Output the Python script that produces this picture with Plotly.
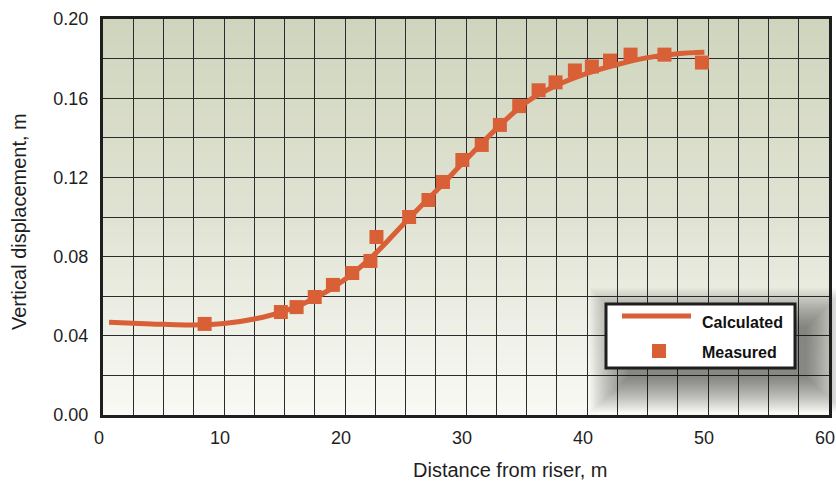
import plotly.graph_objects as go

# Measured vertical displacement along the pipe
measured_x = [8.4, 14.7, 16.0, 17.5, 19.0, 20.6, 22.1, 22.6, 25.3, 26.9, 28.1, 29.7,
              31.3, 32.8, 34.4, 36.0, 37.4, 39.0, 40.4, 41.9, 43.6, 46.4, 49.5]
measured_y = [0.046, 0.052, 0.0545, 0.0596, 0.0657, 0.0717, 0.0778, 0.0899, 0.100, 0.1086,
              0.1177, 0.1288, 0.1364, 0.1465, 0.156, 0.164, 0.168, 0.174, 0.176, 0.179,
              0.182, 0.182, 0.178]

# Calculated displacement profile
calc_x = [0.5, 2.5, 5, 7.5, 10, 12.5, 15, 17.5, 20, 22.5, 25, 27.5, 30, 32.5, 35,
          37.5, 40, 42.5, 45, 47.5, 49.7]
calc_y = [0.0468, 0.0464, 0.0458, 0.0455, 0.0462, 0.0485, 0.0525, 0.059, 0.0685, 0.0815,
          0.0975, 0.113, 0.129, 0.1445, 0.158, 0.1665, 0.1725, 0.177, 0.1805, 0.1825, 0.1832]

x_ticks = [0, 10, 20, 30, 40, 50, 60]
y_ticks = [0.00, 0.04, 0.08, 0.12, 0.16, 0.20]
y_tick_text = ["0.00", "0.04", "0.08", "0.12", "0.16", "0.20"]

ORANGE = "#d95f37"
GRID = "#2b2b2b"
TEXT = "#1e1e1e"
FONT = "Liberation Sans, Arial, sans-serif"

W, H = 836, 484
ML, MR, MT, MB = 103, 7, 19, 69
PW, PH = W - ML - MR, H - MT - MB


def px(x):
    """Horizontal pixel position -> paper fraction."""
    return (x - ML) / PW


def py(y):
    """Vertical pixel position (from top) -> paper fraction."""
    return (H - MB - y) / PH


fig = go.Figure()

fig.add_trace(go.Scatter(
    x=calc_x, y=calc_y, mode="lines", name="Calculated",
    line=dict(color=ORANGE, width=5, shape="spline", smoothing=1.0),
))
fig.add_trace(go.Scatter(
    x=measured_x, y=measured_y, mode="markers", name="Measured",
    marker=dict(symbol="square", size=14, color=ORANGE, line=dict(width=0)),
))

# Vertical gradient background behind the grid
top_rgb = (0xcf, 0xd5, 0xbd)
mid_rgb = (0xe0, 0xe3, 0xd3)
bot_rgb = (0xf9, 0xf9, 0xf5)
shapes = []
n_strips = 80
for i in range(n_strips):
    t = i / (n_strips - 1)  # 0 at bottom, 1 at top
    if t < 0.5:
        u = t / 0.5
        c = [bot_rgb[k] + (mid_rgb[k] - bot_rgb[k]) * u for k in range(3)]
    else:
        u = (t - 0.5) / 0.5
        c = [mid_rgb[k] + (top_rgb[k] - mid_rgb[k]) * u for k in range(3)]
    shapes.append(dict(
        type="rect", xref="x domain", yref="y domain",
        x0=0, x1=1, y0=i / n_strips, y1=(i + 1) / n_strips + 0.002,
        fillcolor="rgb(%d,%d,%d)" % tuple(int(round(v)) for v in c),
        line=dict(width=0), layer="below",
    ))

# Legend box geometry (pixels)
BX0, BX1, BY0, BY1 = 606, 795, 304, 368

# Soft drop shadow under the legend box
for k in range(18):
    g = k * 2.2
    shapes.append(dict(
        type="rect", xref="paper", yref="paper",
        x0=px(BX0 + 22 - g), x1=px(BX1 + 12 + g),
        y0=py(BY1 + 10 + g * 0.9), y1=py(BY0 + 22 - g),
        fillcolor="rgba(30,30,30,0.036)", line=dict(width=0), layer="above",
    ))

# Legend box, line sample and marker sample
shapes.append(dict(
    type="rect", xref="paper", yref="paper",
    x0=px(BX0), x1=px(BX1), y0=py(BY1), y1=py(BY0),
    fillcolor="white", line=dict(color="#1e1e1e", width=3), layer="above",
))
shapes.append(dict(
    type="line", xref="paper", yref="paper",
    x0=px(622), x1=px(691), y0=py(316), y1=py(316),
    line=dict(color=ORANGE, width=5), layer="above",
))
shapes.append(dict(
    type="rect", xref="paper", yref="paper",
    x0=px(652), x1=px(666), y0=py(358), y1=py(344),
    fillcolor=ORANGE, line=dict(width=0), layer="above",
))

legend_font = dict(family=FONT, size=16, color="#111111", weight="bold")
title_font = dict(family=FONT, size=20, color=TEXT)
annotations = [
    dict(text="Calculated", xref="paper", yref="paper", x=px(700), y=py(322),
         xanchor="left", yanchor="middle", showarrow=False, font=legend_font),
    dict(text="Measured", xref="paper", yref="paper", x=px(700), y=py(352),
         xanchor="left", yanchor="middle", showarrow=False, font=legend_font),
    # Axis titles
    dict(text="Distance from riser, m", xref="paper", yref="paper",
         x=px(510), y=py(470), xanchor="center", yanchor="middle",
         showarrow=False, font=title_font),
    dict(text="Vertical displacement, m", xref="paper", yref="paper",
         x=px(19), y=py(222), xanchor="center", yanchor="middle",
         textangle=-90, showarrow=False, font=title_font),
]

fig.update_layout(
    width=W, height=H,
    margin=dict(l=ML, r=MR, t=MT, b=MB),
    paper_bgcolor="white",
    plot_bgcolor="rgba(0,0,0,0)",
    font=dict(family=FONT, size=18, color=TEXT),
    shapes=shapes,
    annotations=annotations,
    showlegend=False,
)

fig.update_xaxes(
    range=[0, 60], tickvals=x_ticks, ticktext=[str(v) for v in x_ticks],
    showgrid=True, gridcolor=GRID, gridwidth=1.2,
    minor=dict(dtick=2.5, tick0=0, showgrid=True, gridcolor=GRID, gridwidth=1.2),
    showline=True, linecolor="#1e1e1e", linewidth=3, mirror=True,
    ticks="outside", ticklen=4, tickcolor="rgba(0,0,0,0)",
    ticklabelshift=-4, ticklabeloverflow="allow",
    zeroline=False, automargin=False,
)
fig.update_yaxes(
    range=[0, 0.20], tickvals=y_ticks, ticktext=y_tick_text,
    showgrid=True, gridcolor=GRID, gridwidth=1.2,
    minor=dict(dtick=0.02, tick0=0, showgrid=True, gridcolor=GRID, gridwidth=1.2),
    showline=True, linecolor="#1e1e1e", linewidth=3, mirror=True,
    ticks="outside", ticklen=8, tickcolor="rgba(0,0,0,0)",
    ticklabeloverflow="allow",
    zeroline=False, automargin=False,
)

fig.write_html("out.html")
